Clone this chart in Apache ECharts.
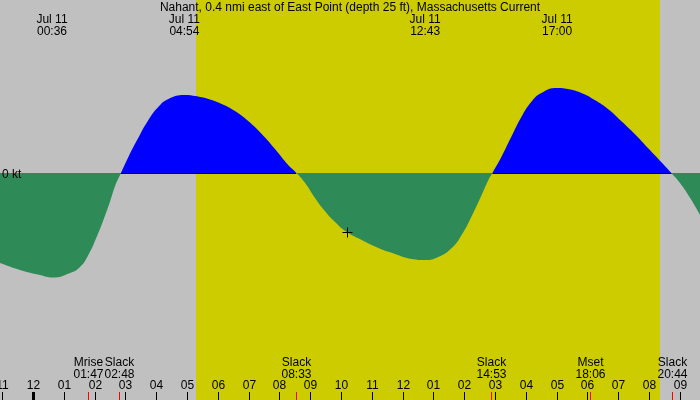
<!DOCTYPE html>
<html>
<head>
<meta charset="utf-8">
<title>Nahant current</title>
<script src="https://cdn.jsdelivr.net/npm/echarts@6/dist/echarts.min.js"></script>
<style>
  html, body { margin: 0; padding: 0; }
  #chart { width: 700px; height: 400px; }
</style>
</head>
<body>
<div id="chart"></div>
<script>
// current on Jul 11: hours after midnight, knots (+ flood, - ebb)
var tideHours = [-1.09, -0.44, 0.21, 0.62, 1.19, 1.51, 1.78, 2.05, 2.27, 2.48, 2.65, 2.84,
    3.08, 3.40, 3.73, 4.05, 4.38, 4.90, 5.24, 5.68, 6.11, 6.54, 6.97, 7.41, 7.84, 8.27, 8.54,
    8.82, 9.14, 9.46, 9.79, 10.17, 10.66, 11.20, 11.74, 12.28, 12.72, 13.14, 13.58, 13.90, 14.23, 14.55, 14.77, 14.90,
    15.19, 15.51, 15.84, 16.16, 16.49, 17.00, 17.35, 17.79, 18.22, 18.65, 19.08, 19.52, 19.95, 20.38, 20.71,
    20.99, 21.32, 21.64];
var tideKnots = [-0.90, -0.97, -1.02, -1.045, -1.00, -0.94, -0.82, -0.64, -0.47, -0.29, -0.13, 0,
    0.16, 0.35, 0.53, 0.66, 0.74, 0.78, 0.77, 0.74, 0.69, 0.62, 0.52, 0.39, 0.24, 0.08, 0,
    -0.10, -0.25, -0.38, -0.49, -0.59, -0.67, -0.75, -0.81, -0.86, -0.87, -0.84, -0.75, -0.62, -0.43, -0.22, -0.07, 0,
    0.16, 0.36, 0.56, 0.71, 0.80, 0.85, 0.84, 0.80, 0.73, 0.64, 0.52, 0.39, 0.25, 0.11, 0,
    -0.10, -0.25, -0.42];

// hour ticks along the bottom
var tickHours = [-1, 0, 1, 2, 3, 4, 5, 6, 7, 8, 9, 10, 11, 12, 13, 14, 15, 16, 17, 18, 19, 20, 21];
var tickLabels = ['11', '12', '01', '02', '03', '04', '05', '06', '07', '08', '09', '10', '11',
    '12', '01', '02', '03', '04', '05', '06', '07', '08', '09'];

// max ebb / max flood (top labels)
var peakDates = ['Jul 11', 'Jul 11', 'Jul 11', 'Jul 11'];
var peakTimes = ['00:36', '04:54', '12:43', '17:00'];

// slack water and moon events (bottom labels)
var eventNames = ['Mrise', 'Slack', 'Slack', 'Slack', 'Mset', 'Slack'];
var eventTimes = ['01:47', '02:48', '08:33', '14:53', '18:06', '20:44'];

// flood periods, daylight, current time mark
var floodStart = ['02:50', '14:54'];
var floodEnd = ['08:32', '20:43'];
var sunRise = '05:16';
var sunSet = '20:20';
var nowTime = '10:11';
var nowKnots = -0.59;

var FONT = 'Liberation Sans';
var X_MIN = -1.088, X_MAX = 21.64;
var Y_MIN = -2.27, Y_MAX = 1.73;
var FLOOD = '#0000ff', EBB = '#2e8b57';

function toHours(s) {
    var p = s.split(':');
    return Number(p[0]) + Number(p[1]) / 60;
}

function txt(x, y, text, align) {
    return {
        type: 'text', x: x, y: y,
        style: {
            text: text, fill: '#000', fontFamily: FONT, fontSize: 12, lineHeight: 12,
            align: align || 'center', verticalAlign: 'top'
        }
    };
}

var chart = echarts.init(document.getElementById('chart'));

// blue above 0 kt, green below (the grid fills the whole canvas)
var zeroAt = Y_MAX / (Y_MAX - Y_MIN);
var fillColor = new echarts.graphic.LinearGradient(0, 0, 0, chart.getHeight(), [
    { offset: 0, color: FLOOD }, { offset: zeroAt, color: FLOOD },
    { offset: zeroAt, color: EBB }, { offset: 1, color: EBB }
], true);

chart.setOption({
    animation: false,
    backgroundColor: '#c0c0c0',
    title: {
        text: 'Nahant, 0.4 nmi east of East Point (depth 25 ft), Massachusetts Current',
        left: 'center', top: 2, padding: 0,
        textStyle: { fontFamily: FONT, fontSize: 12, fontWeight: 'normal', color: '#000', lineHeight: 12 }
    },
    grid: { left: 0, right: 0, top: 0, bottom: 0 },
    xAxis: { type: 'value', min: X_MIN, max: X_MAX, show: false },
    yAxis: { type: 'value', min: Y_MIN, max: Y_MAX, show: false },
    graphic: [
        { type: 'text', left: 2, top: 168.5, z: 10, style: { text: '0 kt', fill: '#000', fontFamily: FONT, fontSize: 12 } }
    ],
    series: [
        {
            // daylight
            type: 'custom', z: 1, silent: true,
            data: [[toHours(sunRise), toHours(sunSet)]],
            renderItem: function (params, api) {
                var a = api.coord([api.value(0), Y_MAX]);
                var b = api.coord([api.value(1), Y_MIN]);
                return { type: 'rect', shape: { x: Math.round(a[0]), y: a[1], width: Math.round(b[0]) - Math.round(a[0]), height: b[1] - a[1] },
                    style: { fill: '#cccc00' } };
            }
        },
        {
            type: 'line', z: 2, silent: true,
            data: tideHours.map(function (h, i) { return [h, tideKnots[i]]; }),
            smooth: 0.5,
            symbol: 'none',
            lineStyle: { width: 0 },
            areaStyle: { opacity: 1, color: fillColor }
        },
        {
            // zero line under the flood
            type: 'custom', z: 3, silent: true,
            data: floodStart.map(function (s, i) { return [toHours(s), toHours(floodEnd[i])]; }),
            renderItem: function (params, api) {
                var a = api.coord([api.value(0), 0]);
                var b = api.coord([api.value(1), 0]);
                var y = Math.floor(a[1]) + 0.5;
                return { type: 'line', shape: { x1: a[0], y1: y, x2: b[0], y2: y }, style: { stroke: '#000', lineWidth: 1 } };
            }
        },
        {
            // hour ticks and labels
            type: 'custom', z: 4, silent: true,
            data: tickHours.map(function (h, i) { return [h, 0, i]; }),
            renderItem: function (params, api) {
                var h = api.value(0);
                var x = Math.floor(api.coord([h, 0])[0]);
                var bottom = params.coordSys.y + params.coordSys.height;
                var midnight = h % 24 === 0;
                return {
                    type: 'group',
                    children: [
                        { type: 'rect', shape: { x: midnight ? x - 1 : x, y: bottom - 8, width: midnight ? 3 : 1, height: 8 }, style: { fill: '#000' } },
                        txt(x + 0.5, bottom - 20.5, tickLabels[api.value(2)])
                    ]
                };
            }
        },
        {
            // slack / moon events
            type: 'custom', z: 5, silent: true,
            data: eventTimes.map(function (t, i) { return [toHours(t), 0, i]; }),
            renderItem: function (params, api) {
                var i = api.value(2);
                var x = Math.floor(api.coord([api.value(0), 0])[0]);
                var bottom = params.coordSys.y + params.coordSys.height;
                return {
                    type: 'group',
                    children: [
                        { type: 'rect', shape: { x: x, y: bottom - 8, width: 1, height: 8 }, style: { fill: '#ff0000' } },
                        txt(x + 0.5, bottom - 43, eventNames[i] + '\n' + eventTimes[i])
                    ]
                };
            }
        },
        {
            // max flood / ebb labels
            type: 'custom', z: 5, silent: true,
            data: peakTimes.map(function (t, i) { return [toHours(t), 0, i]; }),
            renderItem: function (params, api) {
                var i = api.value(2);
                var x = api.coord([api.value(0), 0])[0];
                return txt(x, params.coordSys.y + 14, peakDates[i] + '\n' + peakTimes[i]);
            }
        },
        {
            // current time mark
            type: 'custom', z: 6, silent: true,
            data: [[toHours(nowTime), nowKnots]],
            renderItem: function (params, api) {
                var p = api.coord([api.value(0), api.value(1)]);
                var x = Math.floor(p[0]) + 0.5, y = Math.floor(p[1]) + 0.5;
                return {
                    type: 'group',
                    children: [
                        { type: 'line', shape: { x1: x - 5, y1: y, x2: x + 5, y2: y }, style: { stroke: '#000', lineWidth: 1 } },
                        { type: 'line', shape: { x1: x, y1: y - 5, x2: x, y2: y + 5 }, style: { stroke: '#000', lineWidth: 1 } }
                    ]
                };
            }
        }
    ]
});
</script>
</body>
</html>
